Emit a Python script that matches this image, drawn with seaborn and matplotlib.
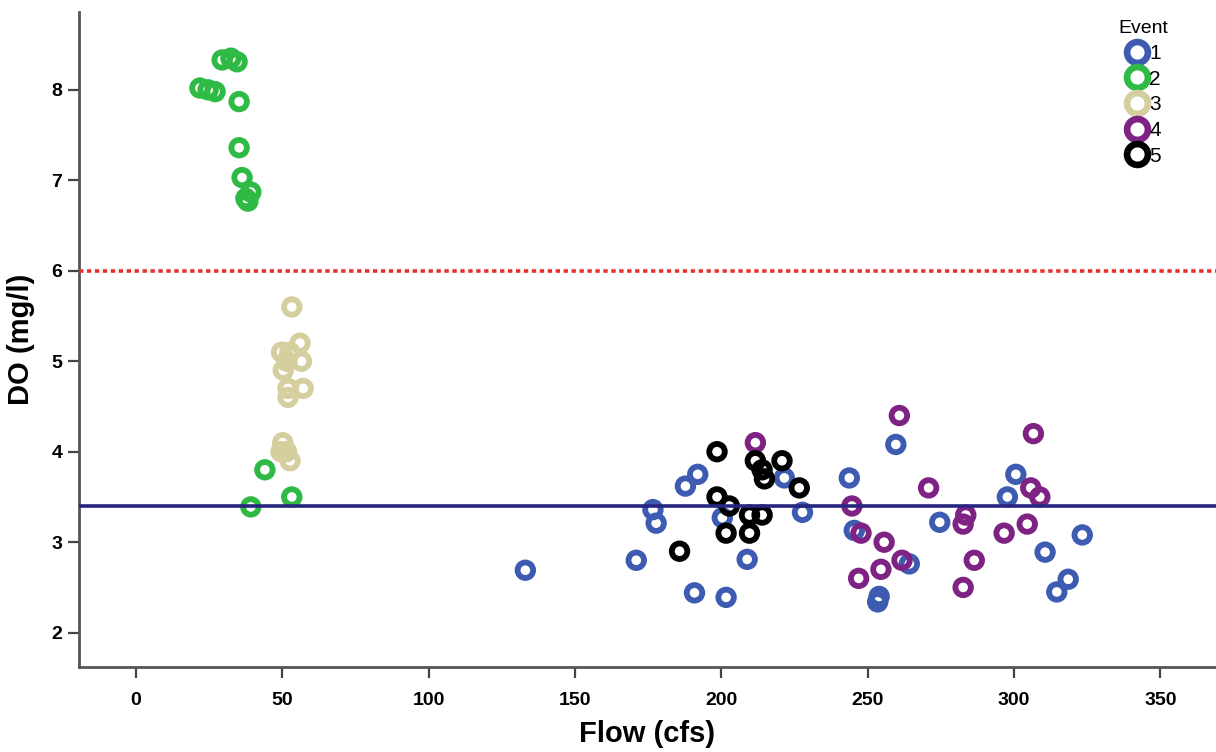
import matplotlib
matplotlib.use("Agg")
import matplotlib.pyplot as plt
from matplotlib.lines import Line2D
from matplotlib import font_manager
import seaborn as sns
import pandas as pd

# ---------------- data ----------------
events = ["1", "2", "3", "4", "5"]
colors = ["#3E5BB2", "#2FBA45", "#D5CE9E", "#7E2383", "#000000"]

flow_1 = [133.0, 170.9, 176.6, 177.7, 187.7, 191.9, 190.8, 201.6, 200.3, 208.8,
          221.5, 227.7, 243.7, 245.4, 259.6, 264.2, 253.9, 253.4, 274.6, 297.7,
          300.6, 310.6, 318.5, 314.6, 323.3]
do_1 = [2.69, 2.80, 3.36, 3.21, 3.62, 3.75, 2.44, 2.39, 3.27, 2.81,
        3.71, 3.33, 3.71, 3.13, 4.08, 2.76, 2.40, 2.34, 3.22, 3.50,
        3.75, 2.89, 2.59, 2.45, 3.08]

flow_2 = [21.8, 24.6, 27.0, 29.4, 32.4, 34.5, 35.2, 35.2, 36.2, 39.2, 37.5, 38.2,
          44.0, 39.2, 53.2]
do_2 = [8.02, 8.00, 7.98, 8.33, 8.35, 8.31, 7.87, 7.36, 7.03, 6.87, 6.80, 6.77,
        3.80, 3.39, 3.50]

flow_3 = [53.2, 56.0, 49.7, 52.5, 56.5, 51.5, 50.3, 51.9, 57.1, 51.9, 50.1, 49.5,
          51.4, 52.6]
do_3 = [5.60, 5.20, 5.10, 5.10, 5.00, 5.00, 4.90, 4.70, 4.70, 4.60, 4.10, 4.00,
        4.00, 3.90]

flow_4 = [211.6, 260.8, 244.6, 247.7, 255.6, 261.7, 254.5, 246.9, 270.8, 283.5,
          282.6, 286.4, 282.6, 296.6, 304.5, 305.7, 308.8, 306.6]
do_4 = [4.10, 4.40, 3.40, 3.10, 3.00, 2.80, 2.70, 2.60, 3.60, 3.30,
        3.20, 2.80, 2.50, 3.10, 3.20, 3.60, 3.50, 4.20]

flow_5 = [198.5, 198.5, 202.7, 211.6, 213.9, 214.7, 220.7, 226.6, 209.6, 213.9,
          201.6, 209.6, 185.7]
do_5 = [4.00, 3.50, 3.40, 3.90, 3.80, 3.70, 3.90, 3.60, 3.30, 3.30,
        3.10, 3.10, 2.90]

do_standard = 6.0
do_reference = 3.4

x_ticks = [0, 50, 100, 150, 200, 250, 300, 350]
y_ticks = [2, 3, 4, 5, 6, 7, 8]
x_label = "Flow (cfs)"
y_label = "DO (mg/l)"
legend_title = "Event"

flows = [flow_1, flow_2, flow_3, flow_4, flow_5]
dos = [do_1, do_2, do_3, do_4, do_5]
df = pd.concat([pd.DataFrame({"Flow": f, "DO": d, "Event": e})
                for f, d, e in zip(flows, dos, events)], ignore_index=True)

# ---------------- style ----------------
sns.set_style("white")
avail = {f.name for f in font_manager.fontManager.ttflist}
narrow = "Liberation Sans Narrow" if "Liberation Sans Narrow" in avail else "Liberation Sans"
plt.rcParams["font.family"] = ["Liberation Sans", "DejaVu Sans"]
plt.rcParams["text.color"] = "black"
plt.rcParams["axes.labelcolor"] = "black"
plt.rcParams["xtick.color"] = "black"
plt.rcParams["ytick.color"] = "black"

fig = plt.figure(figsize=(12.16, 7.52), dpi=100)
ax = fig.add_axes([0.065, 0.113, 0.935, 0.871])

for e, c in zip(events, colors):
    sub = df[df["Event"] == e]
    sns.scatterplot(data=sub, x="Flow", y="DO", ax=ax, s=125,
                    facecolor="none", edgecolor=c, linewidth=4.2,
                    legend=False, zorder=2)

ax.axhline(do_standard, color="#E8302F", linestyle=(0, (1.2, 1.0)), linewidth=2.6, zorder=3)
ax.axhline(do_reference, color="#262680", linewidth=2.6, zorder=3)

ax.set_xlim(-19.5, 369)
ax.set_ylim(1.62, 8.86)
ax.set_xticks(x_ticks)
ax.set_yticks(y_ticks)
ax.set_xticklabels([str(v) for v in x_ticks], fontfamily=narrow, fontweight="bold", fontsize=14)
ax.set_yticklabels([str(v) for v in y_ticks], fontfamily=narrow, fontweight="bold", fontsize=14)
ax.tick_params(axis="both", direction="out", length=8, width=1.6, color="#444444",
               pad=4, left=True, bottom=True)
ax.tick_params(axis="x", pad=10)

for s in ["top", "right"]:
    ax.spines[s].set_visible(False)
for s in ["left", "bottom"]:
    ax.spines[s].set_color("#555555")
    ax.spines[s].set_linewidth(2.0)

ax.set_xlabel(x_label, fontsize=21, fontweight="bold", labelpad=8)
ax.set_ylabel(y_label, fontsize=21, fontweight="bold", labelpad=12)

handles = [Line2D([], [], linestyle="none", marker="o", markersize=15,
                  markerfacecolor="none", markeredgecolor=c, markeredgewidth=4.8)
           for c in colors]
leg = fig.legend(handles, events, title=legend_title, loc="upper left",
                 bbox_to_anchor=(1108 / 1216, 1 - 10 / 752), frameon=False,
                 handlelength=1.0, handletextpad=0.1, labelspacing=0.32,
                 borderpad=0, prop={"family": narrow, "size": 15},
                 title_fontproperties={"family": narrow, "size": 14})

fig.savefig("out.png", dpi=100)
